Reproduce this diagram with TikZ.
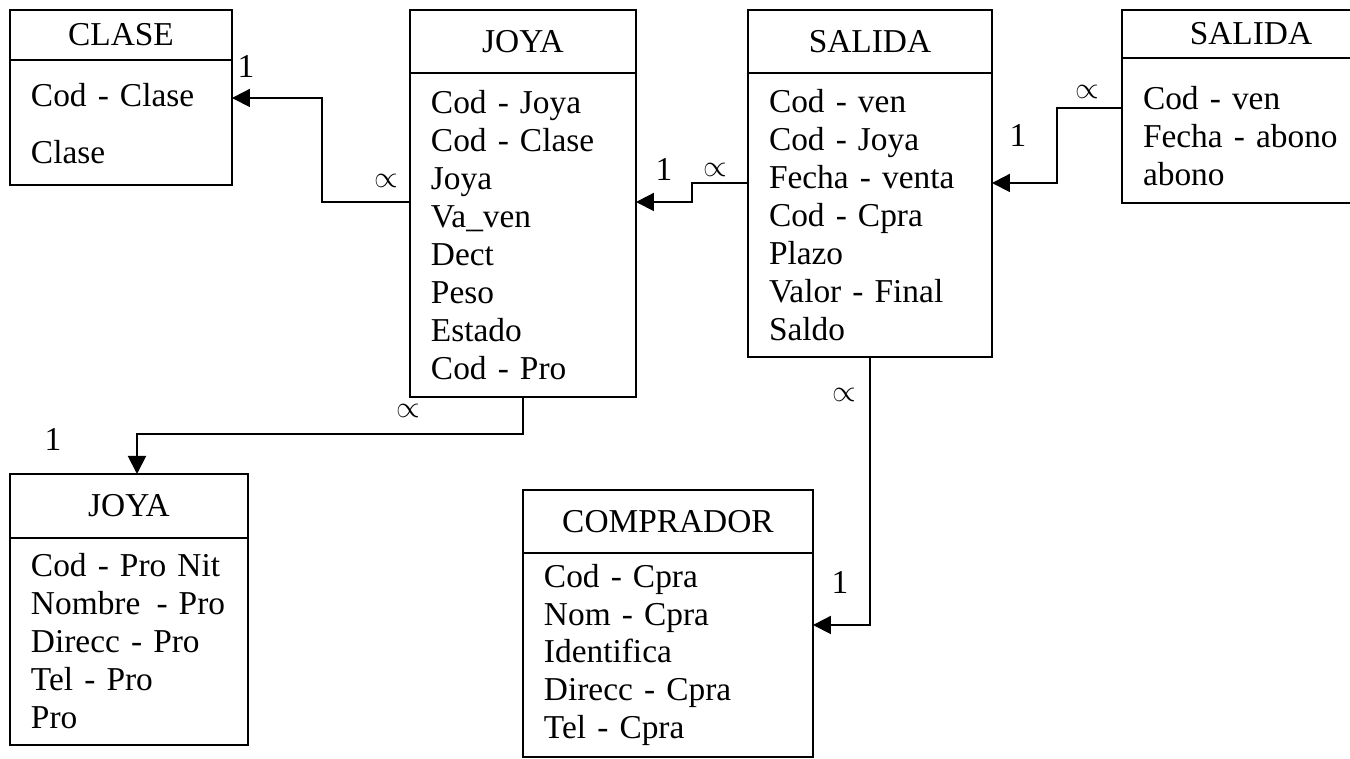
\documentclass[tikz,border=0pt]{standalone}
\usepackage{fontspec}
\setmainfont{Liberation Serif}
\usepackage{tikz}
\usetikzlibrary{calc,positioning,arrows.meta}
\newcommand{\entfont}{\fontsize{19}{21.6}\selectfont}
\tikzset{
  enthead/.style = {draw, line width=1.1pt, align=center, inner xsep=0.42cm,
                    inner ysep=0pt, outer sep=0pt, font=\entfont},
  entbody/.style = {draw, line width=1.1pt, align=left, inner xsep=0.42cm,
                    inner ysep=0pt, outer sep=0pt, font=\entfont},
  rel/.style     = {draw, line width=1.1pt, -{Triangle[length=0.36cm, width=0.36cm]}},
  card/.style    = {font=\entfont, inner sep=0pt},
}

\begin{document}
\begin{tikzpicture}[x=0.02cm, y=-0.02cm]
    \path[use as bounding box] (0,0) rectangle (1350,759);
    \clip (0,0) rectangle (1350,759);

    % ---------- table corners ---------------------------------------------
    \coordinate (ccl) at (10,10);    \coordinate (cjo) at (410,10);
    \coordinate (csa) at (748,10);   \coordinate (cab) at (1122,10);
    \coordinate (cpr) at (10,474);   \coordinate (ccp) at (523,490);

    % ---------- upper row ---------------------------------------------------
    \node[enthead, anchor=north west, text width=3.60cm, minimum height=1.00cm] (clh) at (ccl) {CLASE};
    \node[entbody, text width=3.60cm, minimum height=2.50cm, below=0pt of clh] (clb)
      {\rule{0pt}{0.5cm}Cod - Clase\\[10.8pt]Clase};

    \node[enthead, anchor=north west, text width=3.68cm, minimum height=1.26cm] (joh) at (cjo) {JOYA};
    \node[entbody, text width=3.68cm, minimum height=6.48cm, below=0pt of joh] (job)
      {Cod - Joya\\Cod - Clase\\Joya\\Va\_ven\\Dect\\Peso\\Estado\\Cod - Pro};

    \node[enthead, anchor=north west, text width=4.04cm, minimum height=1.26cm] (sah) at (csa) {SALIDA};
    \node[entbody, text width=4.04cm, minimum height=5.68cm, below=0pt of sah] (sab)
      {Cod - ven\\Cod - Joya\\Fecha - venta\\Cod - Cpra\\Plazo\\Valor - Final\\Saldo};

    \node[enthead, anchor=north west, text width=4.32cm, minimum height=0.96cm] (abh) at (cab) {SALIDA};
    \node[entbody, text width=4.32cm, minimum height=2.90cm, below=0pt of abh] (abb)
      {\rule{0pt}{0.7cm}Cod - ven\\Fecha - abono\\abono};

    % ---------- lower row ---------------------------------------------------
    \node[enthead, anchor=north west, text width=3.92cm, minimum height=1.28cm] (prh) at (cpr) {JOYA};
    \node[entbody, text width=3.92cm, minimum height=4.14cm, below=0pt of prh] (prb)
      {Cod - Pro Nit\\\mbox{Nombre\hspace{0.15em} - Pro}\\Direcc - Pro\\Tel - Pro\\Pro};

    \node[enthead, anchor=north west, text width=4.96cm, minimum height=1.26cm] (cph) at (ccp) {COMPRADOR};
    \node[entbody, text width=4.96cm, minimum height=4.08cm, below=0pt of cph] (cpb)
      {Cod - Cpra\\Nom - Cpra\\Identifica\\Direcc - Cpra\\Tel - Cpra};

    % ---------- relations ---------------------------------------------------
    \draw[rel] ($(job.north west)+(0,129)$) -- ++(-88,0) |- ($(clb.north east)+(0,38)$);
    \draw[rel] ($(sab.north west)+(0,110)$) -- ++(-56,0) |- ($(job.north east)+(0,129)$);
    \draw[rel] ($(abb.north west)+(0,50)$) -- ++(-65,0) |- ($(sab.north east)+(0,110)$);
    \draw[rel] ($(job.south west)+(113,0)$) -- ++(0,37) -| ($(prh.north west)+(127,0)$);
    \draw[rel] ($(sab.south west)+(122,0)$) |- ($(cpb.north east)+(0,72)$);

    % ---------- cardinalities -----------------------------------------------
    \node[card] (n1) at (246,66)  {1};  \node[card] (m1) at (386,181) {$\propto$};
    \node[card] (n2) at (664,169) {1};  \node[card] (m2) at (715,170) {$\propto$};
    \node[card] (n3) at (1018,135) {1}; \node[card] (m3) at (1087,92) {$\propto$};
    \node[card] (n4) at (53,439)  {1};  \node[card] (m4) at (408,411) {$\propto$};
    \node[card] (n5) at (840,582) {1};  \node[card] (m5) at (844,395) {$\propto$};

\end{tikzpicture}
\end{document}
